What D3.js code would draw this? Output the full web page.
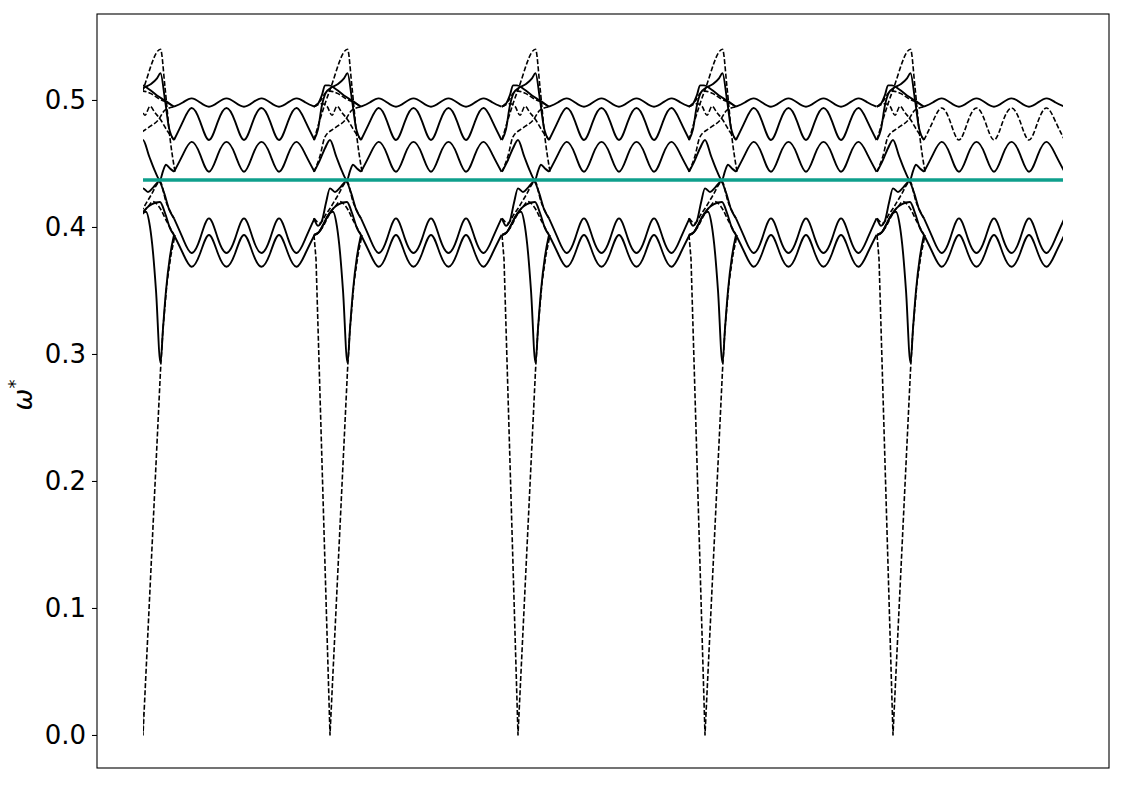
<!DOCTYPE html>
<html lang="en">
<head>
    <meta charset="UTF-8">
    <title>omega* bands</title>
    <script src="https://cdn.jsdelivr.net/npm/d3@7"></script>
    <style>
        body { margin: 0; background: #fff; }
        svg { display: block; font-family: "DejaVu Sans", sans-serif; }
    </style>
</head>
<body>
    <svg id="chart" width="1125" height="785"></svg>
    <script>
        // dips of the lowest (dashed) branch, in path units
        const dipX = [0, 187, 375, 562, 750];
        const xEnd = 920;
        const tealLevel = 0.437;
        const yTicks = [0, 0.1, 0.2, 0.3, 0.4, 0.5];

        // ripple region after each dip: extrema and half-way points (offset from dip)
        const rippleX = [31, 39.75, 48.5, 57.25, 66, 74.75, 83.5, 92.25, 101, 109.75, 118.5, 127.25, 136, 144.875, 153.75, 162.625, 171.5];
        const rippleA = [0.4947, 0.498, 0.5013, 0.498, 0.4947, 0.498, 0.5013, 0.498, 0.4947, 0.498, 0.5013, 0.498, 0.4947, 0.498, 0.5013, 0.498, 0.4947];
        const rippleB = [0.4685, 0.4828, 0.4937, 0.4828, 0.4685, 0.4828, 0.4937, 0.4828, 0.4685, 0.4828, 0.4937, 0.4828, 0.4685, 0.4828, 0.4937, 0.4828, 0.4685];
        const rippleC = [0.4435, 0.4568, 0.467, 0.4568, 0.4435, 0.4568, 0.467, 0.4568, 0.4435, 0.4568, 0.467, 0.4568, 0.4435, 0.4568, 0.467, 0.4568, 0.4435];
        const rippleD = [0.4068, 0.3912, 0.3795, 0.3912, 0.4068, 0.3912, 0.3795, 0.3912, 0.4068, 0.3912, 0.3795, 0.3912, 0.4068, 0.3912, 0.3795, 0.3912, 0.4068];
        const rippleE = [0.3937, 0.3795, 0.3687, 0.3795, 0.3937, 0.3795, 0.3687, 0.3795, 0.3937, 0.3795, 0.3687, 0.3795, 0.3937, 0.3795, 0.3687, 0.3795, 0.3937];

        // crossing region around each dip: [offset, omega*]
        const tangleA = [[-16, 0.4947], [-12, 0.497], [-8, 0.504], [-5, 0.5115], [-1, 0.5115], [6, 0.5085], [14, 0.5035], [22, 0.4995], [31, 0.4947]];
        const tangleB = [[-16, 0.4685], [-12, 0.477], [-8, 0.496], [-4, 0.506], [0, 0.509], [8, 0.5125], [14, 0.517], [17.5, 0.521], [22, 0.5], [26, 0.478], [31, 0.4685]];
        const tangleC = [[-16, 0.4435], [-11, 0.451], [-5, 0.462], [0, 0.4685], [6, 0.456], [12, 0.444], [17, 0.437], [20, 0.444], [23, 0.449], [27, 0.446], [31, 0.4435]];
        const tangleD = [[-16, 0.4068], [-12, 0.401], [-8, 0.405], [-4, 0.419], [0, 0.4304], [5, 0.4275], [10, 0.431], [16, 0.4357], [21, 0.427], [26, 0.414], [31, 0.4068]];
        const tangleE = [[-16, 0.3937], [-11, 0.396], [-6, 0.403], [-2, 0.409], [3, 0.412], [7, 0.4], [10, 0.38], [13, 0.35], [17.5, 0.293], [20, 0.32], [23, 0.35], [27, 0.377], [31, 0.3937]];
        const tangleG = [[-16, 0.3937], [-11, 0.396], [-6, 0.403], [-2, 0.409], [3, 0.4145], [9, 0.418], [17, 0.4197], [22, 0.411], [27, 0.399], [31, 0.3937]];

        const dashSpike = [[-16, 0.4685], [-11, 0.482], [-5, 0.497], [0, 0.508], [17.5, 0.54], [22, 0.51], [27, 0.47], [32, 0.4435]];
        const dashHump = [[-16, 0.4947], [-8, 0.497], [-3, 0.495], [2, 0.488], [7, 0.495], [12, 0.49], [18, 0.484], [24, 0.476], [31, 0.4685]];
        const dashRise = [[-16, 0.4435], [-10, 0.456], [-5, 0.471], [5, 0.478], [15, 0.484], [22, 0.492], [31, 0.4947]];
        const dashTop = [[-16, 0.4947], [-9, 0.5], [-4, 0.506], [0, 0.507], [8, 0.505], [16, 0.501], [24, 0.498], [31, 0.4947]];
        const dashLowA = [[-16, 0.4068], [-10, 0.403], [-4, 0.41], [0, 0.4146], [8, 0.425], [17, 0.4357], [23, 0.42], [31, 0.4068]];
        const dashLowB = [[-16, 0.3937], [-8, 0.399], [0, 0.4108], [5, 0.416], [10, 0.42], [16, 0.416], [24, 0.404], [31, 0.3937]];
        const dashDrop = [[-16, 0.3937], [-14, 0.375], [0, 0], [17.5, 0.287], [20, 0.32], [24, 0.356], [28, 0.378], [32, 0.3937]];

        const svg = d3.select('#chart');
        const frame = { left: 97, right: 1109, top: 14, bottom: 768 };

        const pad = 0.05 * xEnd;
        const x = d3.scaleLinear().domain([-pad, xEnd + pad]).range([frame.left, frame.right]);
        const y = d3.scaleLinear().domain([-0.026, 0.5677]).range([frame.bottom, frame.top]);

        svg.append('rect').attr('width', 1125).attr('height', 785).attr('fill', '#fff');

        svg.append('clipPath').attr('id', 'dataClip')
            .append('rect')
            .attr('x', x(0)).attr('y', frame.top)
            .attr('width', x(xEnd) - x(0)).attr('height', frame.bottom - frame.top);

        const plot = svg.append('g').attr('clip-path', 'url(#dataClip)');

        const smooth = d3.line().x(d => x(d[0])).y(d => y(d[1])).curve(d3.curveMonotoneX);
        const wave = d3.line().x(d => x(d[0])).y(d => y(d[1])).curve(d3.curveNatural);
        const straight = d3.line().x(d => x(d[0])).y(d => y(d[1]));

        function shift(pts, d0) {
            return pts.map(p => [p[0] + d0, p[1]]);
        }

        function ripple(values, d0) {
            return rippleX.map((r, i) => [r + d0, values[i]]);
        }

        function draw(pts, dashed, gen) {
            plot.append('path')
                .attr('d', (gen || smooth)(pts))
                .attr('fill', 'none')
                .attr('stroke', '#000')
                .attr('stroke-width', dashed ? 1.6 : 1.9)
                .attr('stroke-dasharray', dashed ? '5,2.2' : null)
                .attr('stroke-linejoin', 'round');
        }

        dipX.forEach((d0, k) => {
            [dashSpike, dashHump, dashRise, dashTop, dashLowA, dashLowB].forEach(c => draw(shift(c, d0), true));
            draw(shift(dashDrop, d0), true, straight);
            [tangleA, tangleB, tangleC, tangleD, tangleE, tangleG].forEach(c => draw(shift(c, d0), false));

            const last = k === dipX.length - 1;
            draw(ripple(rippleA, d0), false, wave);
            draw(ripple(rippleB, d0), last, wave);
            draw(ripple(rippleC, d0), false, wave);
            draw(ripple(rippleD, d0), false, wave);
            draw(ripple(rippleE, d0), false, wave);
        });

        // reference level
        plot.append('line')
            .attr('x1', x(0)).attr('x2', x(xEnd))
            .attr('y1', y(tealLevel)).attr('y2', y(tealLevel))
            .attr('stroke', '#0e9f8c')
            .attr('stroke-width', 3.5);

        // frame
        svg.append('rect')
            .attr('x', frame.left).attr('y', frame.top)
            .attr('width', frame.right - frame.left).attr('height', frame.bottom - frame.top)
            .attr('fill', 'none').attr('stroke', '#000').attr('stroke-width', 1.1);

        const yAxis = d3.axisLeft(y).tickValues(yTicks).tickFormat(d3.format('.1f')).tickSize(5).tickPadding(6);
        const ga = svg.append('g').attr('transform', `translate(${frame.left},0)`).call(yAxis);
        ga.select('.domain').remove();
        ga.selectAll('line').attr('stroke', '#000').attr('stroke-width', 1.1);
        ga.selectAll('text').attr('font-size', 26).attr('fill', '#000')
            .attr('font-family', '"DejaVu Sans", sans-serif');

        const label = svg.append('text')
            .attr('transform', 'translate(32,395) rotate(-90)')
            .attr('text-anchor', 'middle')
            .attr('font-size', 26)
            .attr('fill', '#000');
        label.append('tspan').attr('font-style', 'italic').text('ω');
        label.append('tspan').attr('dy', -11).attr('font-size', 18).text('*');
    </script>
</body>
</html>
